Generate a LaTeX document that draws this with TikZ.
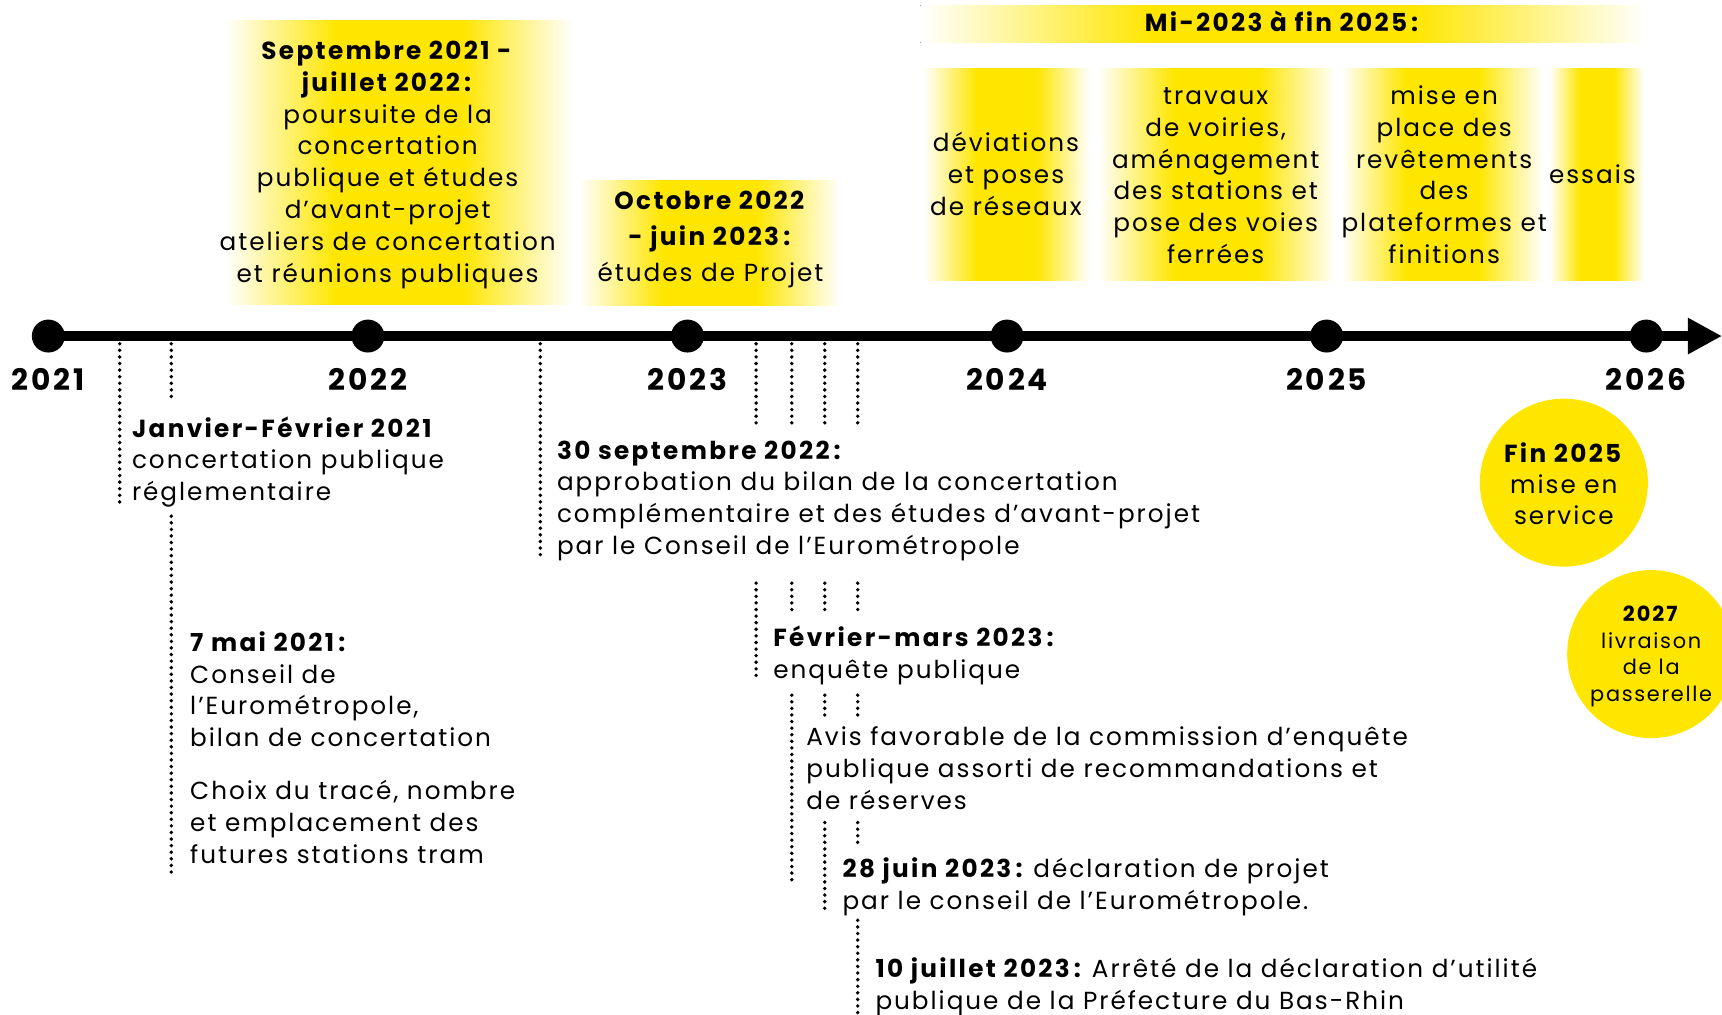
\documentclass[tikz,border=0pt]{standalone}
\usepackage{fontspec}
\setmainfont{Poppins}[LetterSpace=8, BoldFeatures={LetterSpace=9.5}]
\usetikzlibrary{arrows.meta}
\definecolor{yel}{RGB}{255,230,0}
\pgfdeclarehorizontalshading{yband}{100bp}{color(0bp)=(white); color(25bp)=(white); color(41bp)=(yel); color(59bp)=(yel); color(75bp)=(white); color(100bp)=(white)}
\newcommand\mytab[2]{\begin{tabular}[t]{@{}#1@{}}#2\end{tabular}}
\newcommand\bodyf{\fontsize{22.5}{29}\selectfont}
\newcommand\yearf{\fontsize{27}{30}\selectfont\bfseries}
\begin{document}
\begin{tikzpicture}[x=1pt,y=-1pt,
  txt/.style={inner sep=0pt, font=\bodyf, anchor=base west},
  ctxt/.style={inner sep=0pt, font=\bodyf, anchor=base},
  yearlbl/.style={inner sep=0pt, font=\yearf, anchor=base},
  dotline/.style={line width=3.5pt, line cap=round, dash pattern=on 0pt off 6pt},
  tick/.style={circle, fill=black, minimum size=30pt, inner sep=0pt},
  band/.style={shading=yband},
  disc/.style={circle, fill=yel, minimum size=153pt, inner sep=0pt}]
\useasboundingbox (0,0) rectangle (1568,924);

% yellow bands
\fill[band] (205,19) rectangle (522,277);
\fill[band] (527,164) rectangle (765,278);
\fill[band] (838,5) rectangle (1499,39);
\fill[band] (841,62) rectangle (992,255);
\fill[band] (1000,62) rectangle (1216,255);
\fill[band] (1221,62) rectangle (1405,255);
\fill[band] (1411,62) rectangle (1497,255);

% top texts
\node[ctxt] (box1) at (353,54) {\mytab{c}{\textbf{Septembre 2021 -}\\\textbf{juillet 2022\,:}\\poursuite de la\\concertation\\publique et études\\d’avant-projet\\ateliers de concertation\\et réunions publiques}};
\node[ctxt, font=\fontsize{22.5}{32.5}\selectfont] (box2) at (647,191) {\mytab{c}{\textbf{Octobre 2022}\\\textbf{- juin 2023\,:}\\études de Projet}};
\node[ctxt] (banner) at (1168,29) {\textbf{Mi-2023 à fin 2025\,:}};
\node[ctxt] (col1) at (916,138) {\mytab{c}{déviations\\et poses\\de réseaux}};
\node[ctxt] (col2) at (1107,95) {\mytab{c}{travaux\\de voiries,\\aménagement\\des stations et\\pose des voies\\ferrées}};
\node[ctxt] (col3) at (1315,95) {\mytab{c}{mise en\\place des\\revêtements\\des\\plateformes et\\finitions}};
\node[ctxt] (col4) at (1450,167) {essais};

% timeline
\coordinate (t0) at (44,306);
\coordinate (tip) at (1568,306);
\draw[line width=9pt, -{Triangle[length=31pt,width=31pt]}] (t0) -- (tip);
\node[tick] (d2021) at (44,306) {};
\node[tick] (d2022) at (335,306) {};
\node[tick] (d2023) at (626,306) {};
\node[tick] (d2024) at (917,306) {};
\node[tick] (d2025) at (1208,306) {};
\node[tick] (d2026) at (1499,306) {};
\node[yearlbl] (y2021) at (44,356) {2021};
\node[yearlbl] (y2022) at (335,356) {2022};
\node[yearlbl] (y2023) at (626,356) {2023};
\node[yearlbl] (y2024) at (917,356) {2024};
\node[yearlbl] (y2025) at (1208,356) {2025};
\node[yearlbl] (y2026) at (1499,356) {2026};

% dotted lines
\draw[dotline] (109,313) -- (109,458);
\draw[dotline] (156,313) -- (156,367);
\draw[dotline] (156,470) -- (156,797);
\draw[dotline] (492,313) -- (492,507);
\draw[dotline] (688.5,313) -- (688.5,387);
\draw[dotline] (721,313) -- (721,390);
\draw[dotline] (751,313) -- (751,390);
\draw[dotline] (781,313) -- (781,390);
\draw[dotline] (688.5,531) -- (688.5,619);
\draw[dotline] (721,531) -- (721,560);
\draw[dotline] (751,531) -- (751,560);
\draw[dotline] (781,531) -- (781,560);
\draw[dotline] (721,633) -- (721,806);
\draw[dotline] (751,633) -- (751,651);
\draw[dotline] (781,633) -- (781,651);
\draw[dotline] (751,749) -- (751,827);
\draw[dotline] (781,749) -- (781,771);
\draw[dotline] (781,838) -- (781,924);

% bottom texts
\node[txt] (jan) at (120,398) {\mytab{l}{\textbf{Janvier-Février 2021}\\concertation publique\\réglementaire}};
\node[txt] (mai) at (173,593) {\mytab{l}{\textbf{7 mai 2021\,:}\\Conseil de\\l’Eurométropole,\\bilan de concertation\\[19pt]Choix du tracé, nombre\\et emplacement des\\futures stations tram}};
\node[txt] (sept) at (507,418) {\mytab{l}{\textbf{30 septembre 2022\,:}\\approbation du bilan de la concertation\\complémentaire et des études d’avant-projet\\par le Conseil de l’Eurométropole}};
\node[txt] (fev) at (704,589) {\mytab{l}{\textbf{Février-mars 2023\,:}\\enquête publique}};
\node[txt] (avis) at (734,679) {\mytab{l}{Avis favorable de la commission d’enquête\\publique assorti de recommandations et\\de réserves}};
\node[txt] (juin) at (767,799) {\mytab{l}{\textbf{28 juin 2023\,:}~déclaration de projet\\par le conseil de l’Eurométropole.}};
\node[txt] (juil) at (797,890) {\mytab{l}{\textbf{10 juillet 2023\,:}~Arrêté de la déclaration d’utilité\\publique de la Préfecture du Bas-Rhin}};

% discs
\node[disc] (fin) at (1424,439.5) {};
\node[ctxt, font=\fontsize{22.5}{28.5}\selectfont] (fintxt) at (1424,421) {\mytab{c}{\textbf{Fin 2025}\\mise en\\service}};
\node[disc] (pass) at (1503.5,595.6) {};
\node[ctxt, font=\fontsize{19}{24.3}\selectfont] (passtxt) at (1503.5,566) {\mytab{c}{\textbf{2027}\\livraison\\de la\\passerelle}};
\end{tikzpicture}
\end{document}
